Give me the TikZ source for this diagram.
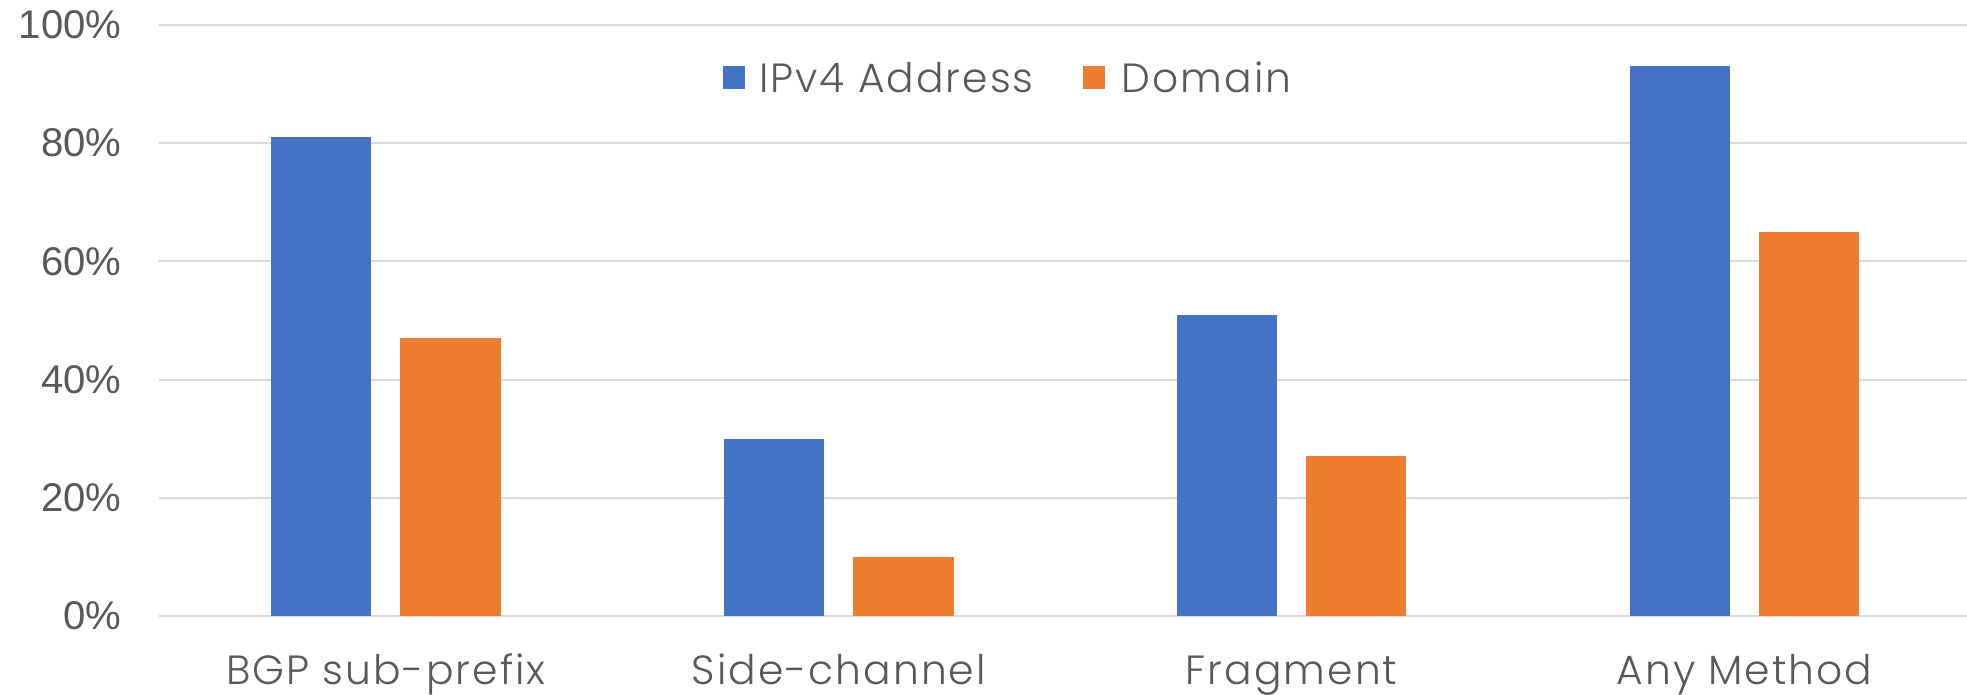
\documentclass[tikz,border=0pt]{standalone}
\usepackage{fontspec}
\setmainfont{Liberation Sans}
\newfontfamily\catfont[LetterSpace=5]{Poppins Light}
\usetikzlibrary{positioning}

\definecolor{ipblue}{HTML}{4472C4}
\definecolor{domorange}{HTML}{ED7D31}
\definecolor{gridgray}{HTML}{D9D9D9}
\definecolor{labelgray}{HTML}{595959}

\begin{document}
\begin{tikzpicture}[
    x=0.01cm, y=0.01cm,
    gridline/.style={draw=gridgray, line width=0.6pt},
    ylab/.style={anchor=east, inner sep=0pt, text=labelgray,
        font=\fontsize{11.4}{13}\selectfont},
    catlab/.style={anchor=base, inner sep=0pt, text=labelgray,
        font=\catfont\fontsize{11.6}{13}\selectfont},
    legsq/.style={rectangle, inner sep=0pt, minimum size=0.226cm},
    legtext/.style={anchor=west, inner sep=0pt, text=labelgray,
        font=\catfont\fontsize{11.6}{13}\selectfont}
]
\useasboundingbox (0,0) rectangle (1967,694);

% Gridlines and percentage axis
\foreach \p in {0,20,...,100} {
    \draw[gridline] (159,{78+5.91*\p}) -- (1967,{78+5.91*\p});
    \node[ylab] (y\p) at (122,{78+5.91*\p}) {\p\%};
}

% Bars: IPv4 address / domain, one pair per method
\foreach \ipv/\dom [count=\k from 0] in {81/47, 30/10, 51/27, 93/65} {
    \fill[ipblue]    ({385.8+452.9*\k-114.8},78) rectangle ++(100.4,{5.91*\ipv});
    \fill[domorange] ({385.8+452.9*\k+14.4},78)  rectangle ++(100.4,{5.91*\dom});
}

% Method names under each pair
\node[catlab] (bgp)  at (385.8,9)  {BGP sub-prefix};
\node[catlab] (side) at (838.7,9)  {Side-channel};
\node[catlab] (frag) at (1291.6,9) {Fragment};
\node[catlab] (any)  at (1744.5,9) {Any Method};

% Legend
\node[legsq, fill=ipblue]    (keyip)  at (733.9,616.2)  {};
\node[legtext, right=0.125cm of keyip]  (keyiptext)  {IPv4 Address};
\node[legsq, fill=domorange] (keydom) at (1093.9,616.2) {};
\node[legtext, right=0.15cm of keydom] (keydomtext) {Domain};

\end{tikzpicture}
\end{document}
